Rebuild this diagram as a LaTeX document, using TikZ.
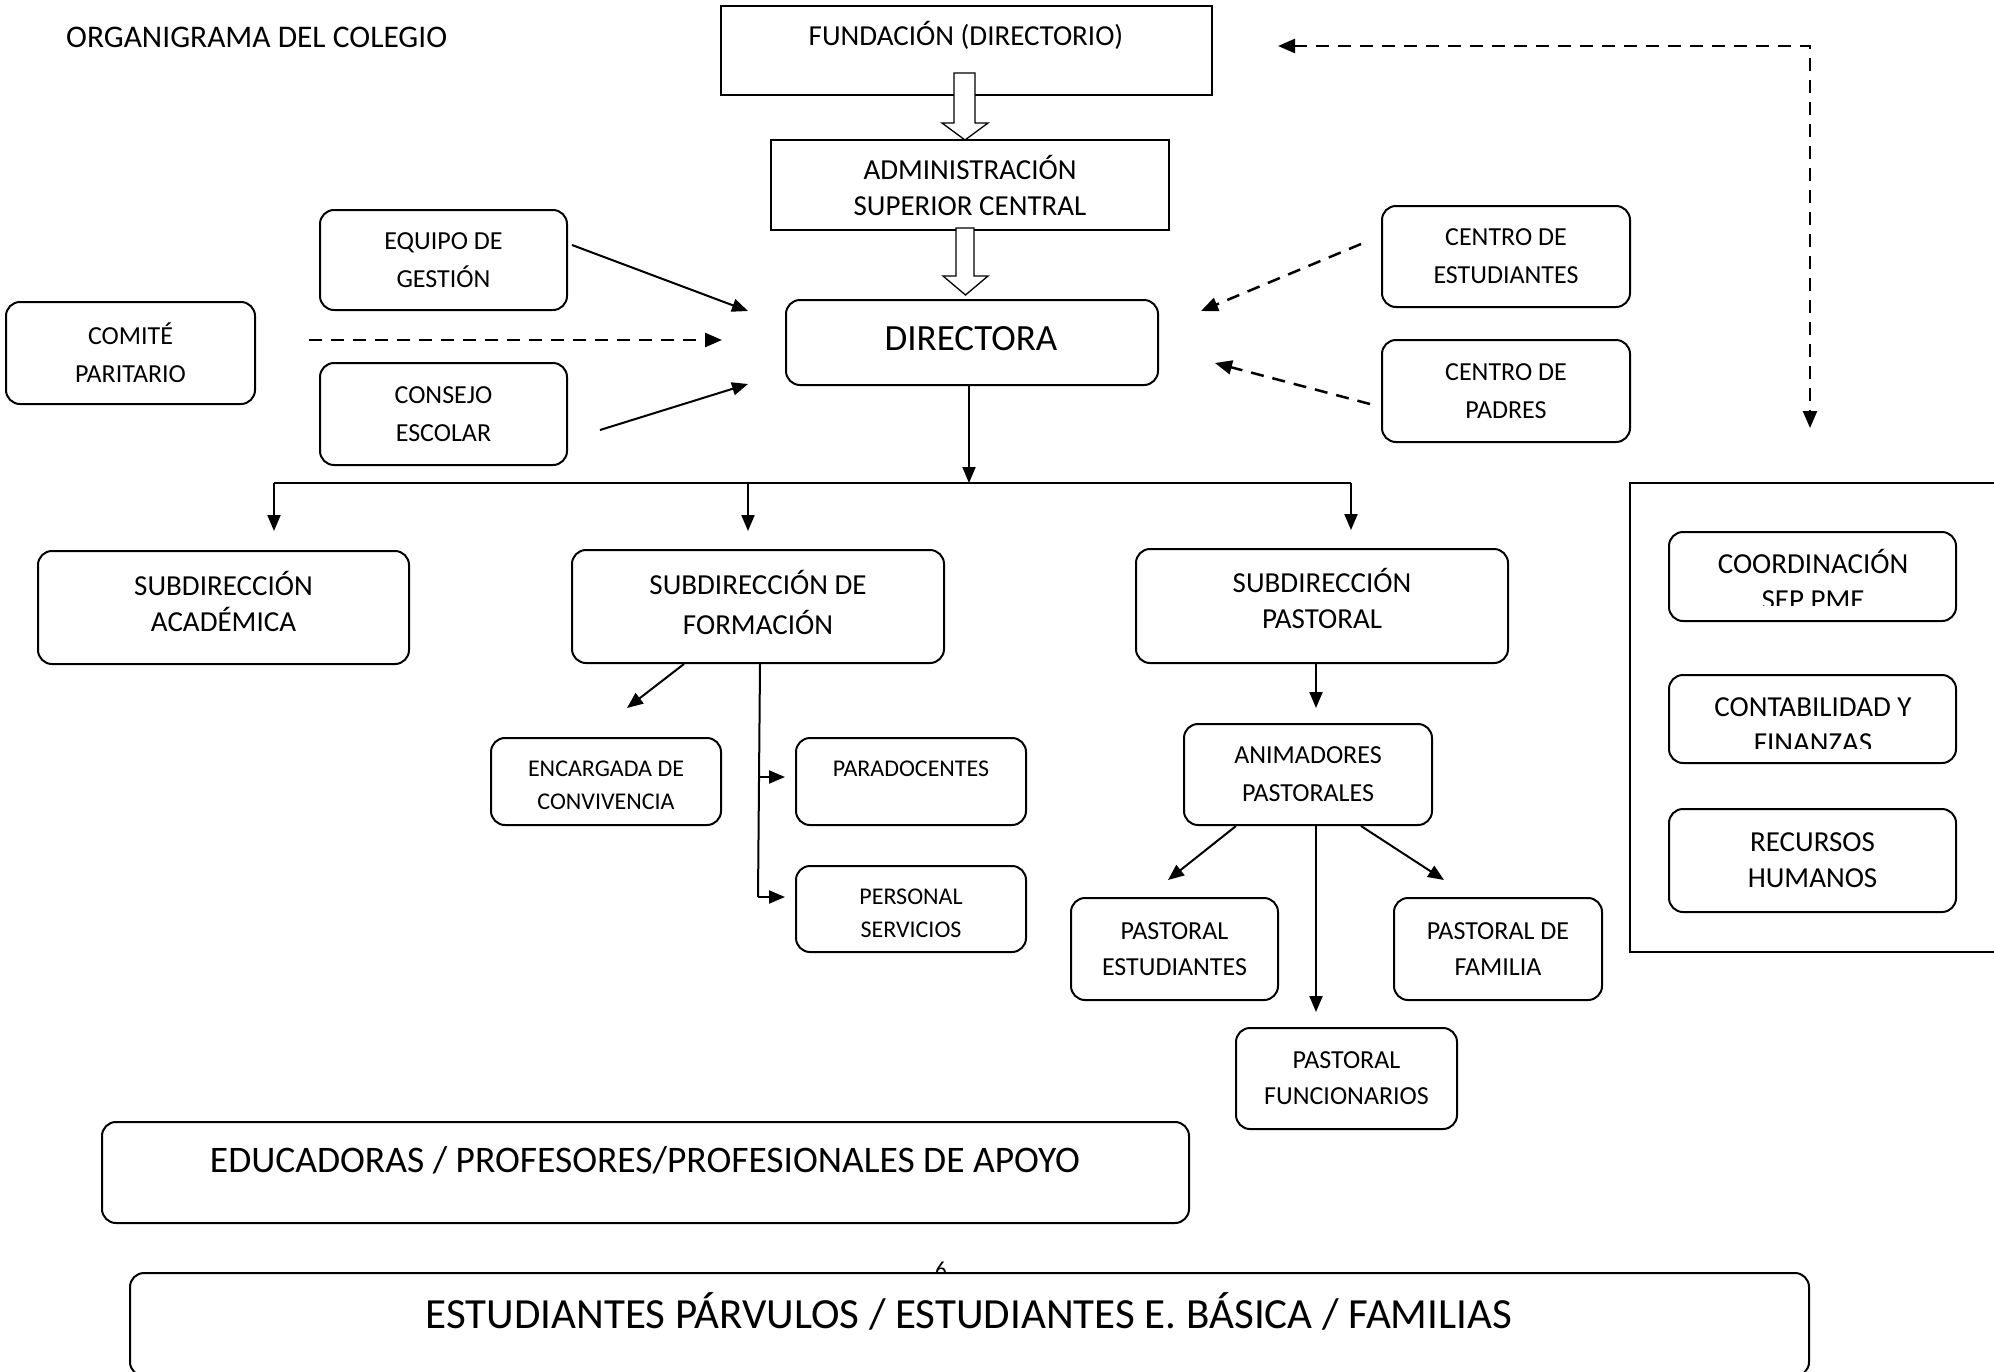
\documentclass[tikz,border=0pt]{standalone}
\usepackage{fontspec}
\setmainfont{Carlito}
\usetikzlibrary{arrows.meta}

\tikzset{
  rbox/.style={draw, line width=2pt, rounded corners=14pt, inner sep=0pt, align=center, fill=white},
  sbox/.style={draw, line width=2pt, inner sep=0pt, align=center, fill=white},
  lbl/.style={inner sep=0pt, align=center},
  f24/.style={font=\fontsize{24}{33}\selectfont},
  f26/.style={font=\fontsize{26}{38}\selectfont},
  f29/.style={font=\fontsize{29}{36}\selectfont},
  link/.style={line width=2pt, -{Triangle[length=16pt,width=13pt]}},
  plain/.style={line width=2pt},
  dlink/.style={line width=2.5pt, dash pattern=on 13pt off 9pt, -{Triangle[length=17pt,width=14pt]}},
  hollow/.style={draw, line width=1.3pt, fill=white, line join=miter},
}

\begin{document}
\begin{tikzpicture}[x=1pt, y=-1pt]
\useasboundingbox (0,0) rectangle (1994,1371);

% title
\node[lbl, font=\fontsize{31.5}{36}\selectfont, anchor=base west] (title) at (66,47) {ORGANIGRAMA DEL COLEGIO};

% top of the hierarchy
\node[sbox, minimum width=491pt, minimum height=89pt] (fund) at (966.5,50.5) {};
\node[lbl, f29, anchor=base] (fundtxt) at (966,45) {FUNDACIÓN (DIRECTORIO)};
\node[sbox, f29, minimum width=398pt, minimum height=90pt] (admin) at (970,185) {ADMINISTRACIÓN\\SUPERIOR CENTRAL};
\node[rbox, minimum width=372pt, minimum height=85pt] (dir) at (972,342.5) {};
\node[lbl, font=\fontsize{37}{44}\selectfont, anchor=base] (dirtxt) at (971,350) {DIRECTORA};

% hollow block arrows
\coordinate (a1) at (964.5,73);
\draw[hollow] (a1) ++(-10.5,0) -- ++(0,50) -- ++(-12,0) -- ++(23,17) -- ++(23,-17) -- ++(-13,0) -- ++(0,-50) -- cycle;
\coordinate (a2) at (965,228);
\draw[hollow] (a2) ++(-9,0) -- ++(0,48) -- ++(-13,0) -- ++(22.5,19) -- ++(22.5,-19) -- ++(-14,0) -- ++(0,-48) -- cycle;

% advisory bodies
\node[rbox, f26, minimum width=247pt, minimum height=100pt] (equipo) at (443.5,260) {EQUIPO DE\\GESTIÓN};
\node[rbox, f26, minimum width=249pt, minimum height=102pt] (comite) at (130.5,353) {COMITÉ\\PARITARIO};
\node[rbox, f26, minimum width=247pt, minimum height=102pt] (consejo) at (443.5,414) {CONSEJO\\ESCOLAR};
\node[rbox, f26, minimum width=248pt, minimum height=101pt] (cest) at (1506,256.5) {CENTRO DE\\ESTUDIANTES};
\node[rbox, f26, minimum width=248pt, minimum height=102pt] (cpad) at (1506,391) {CENTRO DE\\PADRES};

\coordinate (eqA) at (572,245);   \coordinate (eqB) at (748,311);
\coordinate (coA) at (309,340);   \coordinate (coB) at (722,340);
\coordinate (csA) at (600,430);   \coordinate (csB) at (748,384);
\coordinate (ceA) at (1361,244);  \coordinate (ceB) at (1201,311);
\coordinate (cpA) at (1370,404);  \coordinate (cpB) at (1215,363);
\draw[link] (eqA) -- (eqB);
\draw[dlink] (coA) -- (coB);
\draw[link] (csA) -- (csB);
\draw[dlink] (ceA) -- (ceB);
\draw[dlink] (cpA) -- (cpB);

% two-way dashed link to the administration panel
\coordinate (tl) at (1278,46);
\coordinate (tc) at (1810,46);
\coordinate (tb) at (1810,428);
\draw[dlink, {Triangle[length=17pt,width=14pt]}-{Triangle[length=17pt,width=14pt]}] (tl) -- (tc) -- (tb);

% administration panel
\draw[line width=2pt] (2000,483) -- (1630,483) -- (1630,952) -- (2000,952);
\node[rbox, minimum width=287pt, minimum height=89pt] (coord) at (1812.5,576.5) {};
\node[rbox, minimum width=287pt, minimum height=88pt] (conta) at (1812.5,719) {};
\node[rbox, f29, minimum width=287pt, minimum height=103pt] (rrhh) at (1812.5,860.5) {RECURSOS\\HUMANOS};
\begin{scope}
  \clip (1675,535) rectangle (1950,605);
  \node[lbl, f29, anchor=base] (coordA) at (1813,573) {COORDINACIÓN};
  \node[lbl, f29, anchor=base] (coordB) at (1813,609) {SEP PME};
\end{scope}
\begin{scope}
  \clip (1675,678) rectangle (1950,748);
  \node[lbl, f29, anchor=base] (contaA) at (1813,716) {CONTABILIDAD Y};
  \node[lbl, f29, anchor=base] (contaB) at (1813,752) {FINANZAS};
\end{scope}

% branching from the director
\coordinate (hub) at (969,483);
\coordinate (bl) at (274,483);
\coordinate (bm) at (748,483);
\coordinate (br) at (1351,483);
\draw[link] (dir.south -| hub) -- (hub);
\draw[plain] (bl) -- (br);
\draw[link] (bl) -- ++(0,48);
\draw[link] (bm) -- ++(0,48);
\draw[link] (br) -- ++(0,47);

\node[rbox, minimum width=371pt, minimum height=113pt] (acad) at (223.5,607.5) {};
\node[lbl, f29] (acadtxt) at (223.5,601) {SUBDIRECCIÓN\\ACADÉMICA};
\node[rbox, minimum width=372pt, minimum height=113pt] (form) at (758,606.5) {};
\node[lbl, font=\fontsize{29}{40}\selectfont] (formtxt) at (758,602.5) {SUBDIRECCIÓN DE\\FORMACIÓN};
\node[rbox, minimum width=372pt, minimum height=114pt] (past) at (1322,606) {};
\node[lbl, f29] (pasttxt) at (1322,598.5) {SUBDIRECCIÓN\\PASTORAL};

% formation branch
\node[rbox, minimum width=230pt, minimum height=87pt] (enc) at (606,781.5) {};
\node[lbl, f24] (enctxt) at (606,785.5) {ENCARGADA DE\\CONVIVENCIA};
\node[rbox, minimum width=230pt, minimum height=87pt] (para) at (911,781.5) {};
\node[lbl, f24, anchor=base] (paratxt) at (911,776) {PARADOCENTES};
\node[rbox, minimum width=230pt, minimum height=86pt] (pers) at (911,909) {};
\node[lbl, f24] (perstxt) at (911,913) {PERSONAL\\SERVICIOS};

\coordinate (fA) at (684,664);   \coordinate (fB) at (627,708);
\coordinate (fv) at (760,664);   \coordinate (fe) at (758,897);
\coordinate (fm) at (759,777);
\coordinate (paraIn) at (785,777);
\coordinate (persIn) at (785,897);
\draw[link] (fA) -- (fB);
\draw[plain] (fv) -- (fe);
\draw[link] (fm) -- (paraIn);
\draw[link] (fe) -- (persIn);

% pastoral branch
\node[rbox, f26, minimum width=248pt, minimum height=101pt] (anim) at (1308,774.5) {ANIMADORES\\PASTORALES};
\node[rbox, font=\fontsize{26}{36}\selectfont, minimum width=207pt, minimum height=102pt] (pest) at (1174.5,949) {PASTORAL\\ESTUDIANTES};
\node[rbox, font=\fontsize{26}{36}\selectfont, minimum width=208pt, minimum height=102pt] (pfam) at (1498,949) {PASTORAL DE\\FAMILIA};
\node[rbox, font=\fontsize{26}{36}\selectfont, minimum width=221pt, minimum height=101pt] (pfun) at (1346.5,1078.5) {PASTORAL\\FUNCIONARIOS};

\coordinate (pA) at (1316,663);  \coordinate (pB) at (1316,708);
\coordinate (aL) at (1236,826);  \coordinate (aLt) at (1168,880);
\coordinate (aM) at (1316,826);  \coordinate (aMt) at (1316,1012);
\coordinate (aR) at (1361,826);  \coordinate (aRt) at (1444,880);
\draw[link] (pA) -- (pB);
\draw[link] (aL) -- (aLt);
\draw[link] (aM) -- (aMt);
\draw[link] (aR) -- (aRt);

% base of the organisation
\node[rbox, minimum width=1087pt, minimum height=101pt] (educ) at (645.5,1172.5) {};
\node[lbl, font=\fontsize{37.5}{44}\selectfont, anchor=base] (eductxt) at (645,1172) {EDUCADORAS / PROFESORES/PROFESIONALES DE APOYO};

\node[lbl, font=\fontsize{23}{28}\selectfont, anchor=base] (pagenum) at (941,1277) {6};
\node[rbox, minimum width=1679pt, minimum height=103pt, anchor=north] (estud) at (969.5,1272) {};
\node[lbl, font=\fontsize{43}{50}\selectfont, anchor=base] (estudtxt) at (969,1328) {ESTUDIANTES PÁRVULOS / ESTUDIANTES E. BÁSICA / FAMILIAS};
\end{tikzpicture}
\end{document}
